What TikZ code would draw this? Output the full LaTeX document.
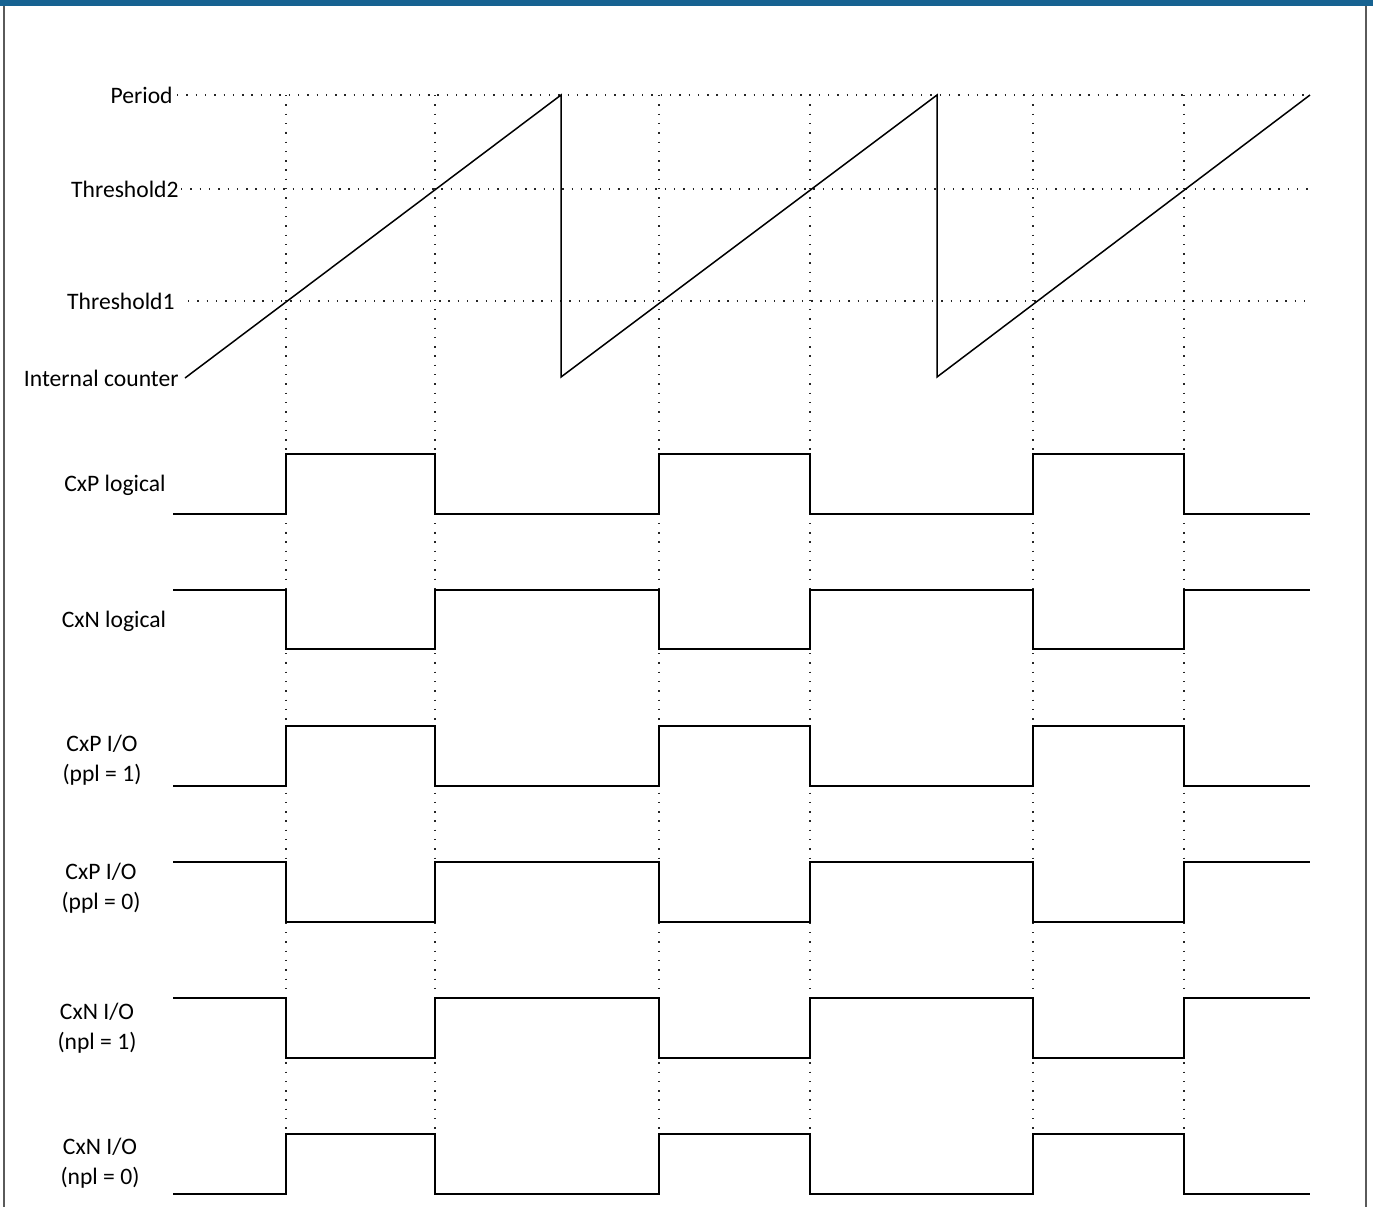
\documentclass[tikz,border=0pt]{standalone}
\usepackage{fontspec}
\setmainfont{Carlito}
\definecolor{barblue}{RGB}{22,98,145}
\definecolor{framegray}{RGB}{90,90,90}
\begin{document}
\begin{tikzpicture}[x=0.5pt,y=-0.5pt,
  grid/.style={line width=0.7pt,dash pattern=on 0.7pt off 3.95pt,black!85},
  wave/.style={line width=0.75pt,black,line join=miter},
  lbl/.style={font=\fontsize{11.8}{15}\selectfont,inner sep=0pt,align=center},
  rlbl/.style={font=\fontsize{11.8}{15}\selectfont,inner sep=0pt,anchor=east}]
\useasboundingbox (0,0) rectangle (1373,1207);
% frame
\fill[barblue] (0,0) rectangle (1373,6);
\draw[framegray,line width=0.8pt] (4,6) -- (4,1207);
\draw[framegray,line width=0.8pt] (1366,6) -- (1366,1207);
% labels of the counter plot
\node[rlbl] (lp) at (173,95) {Period};
\node[rlbl] (lt2) at (179,189) {Threshold2};
\node[rlbl] (lt1) at (175,301) {Threshold1};
\node[rlbl] (lic) at (179,378) {Internal counter};
% horizontal dotted levels
\draw[grid] (177,95) -- (1310,95);
\draw[grid] (181,189) -- (1310,189);
\draw[grid] (188,301) -- (1310,301);
% vertical dotted lines
\foreach \x in {286,435,659,810,1033,1184}
  \draw[grid] (\x,95) -- (\x,1194);
% counter ramp
\coordinate (r0) at (185,378);
\coordinate (p1) at (561,95);
\coordinate (b1) at (561,377);
\coordinate (p2) at (937,95);
\coordinate (b2) at (937,377);
\coordinate (p3) at (1310,95);
\draw[wave] (r0) -- (p1) -- (b1) -- (p2) -- (b2) -- (p3);
% waveforms
\newcommand\wavepos[2]{%
  \draw[wave] (173,#2) -- (286,#2) -- (286,#1) -- (435,#1) -- (435,#2) -- (659,#2) -- (659,#1) -- (810,#1) -- (810,#2) -- (1033,#2) -- (1033,#1) -- (1184,#1) -- (1184,#2) -- (1310,#2);}
\newcommand\waveneg[2]{%
  \draw[wave] (173,#1) -- (286,#1) -- (286,#2) -- (435,#2) -- (435,#1) -- (659,#1) -- (659,#2) -- (810,#2) -- (810,#1) -- (1033,#1) -- (1033,#2) -- (1184,#2) -- (1184,#1) -- (1310,#1);}
\wavepos{454}{514}
\waveneg{590}{649}
\wavepos{726}{786}
\waveneg{862}{922}
\waveneg{998}{1058}
\wavepos{1134}{1194}
% waveform labels
\node[lbl] (l1) at (115,485) {CxP logical};
\node[lbl] (l2) at (114,621) {CxN logical};
\node[lbl] (l3) at (102,760) {CxP I/O\\(ppl = 1)};
\node[lbl] (l4) at (101,888) {CxP I/O\\(ppl = 0)};
\node[lbl] (l5) at (97,1028) {CxN I/O\\(npl = 1)};
\node[lbl] (l6) at (100,1163) {CxN I/O\\(npl = 0)};
\end{tikzpicture}
\end{document}
